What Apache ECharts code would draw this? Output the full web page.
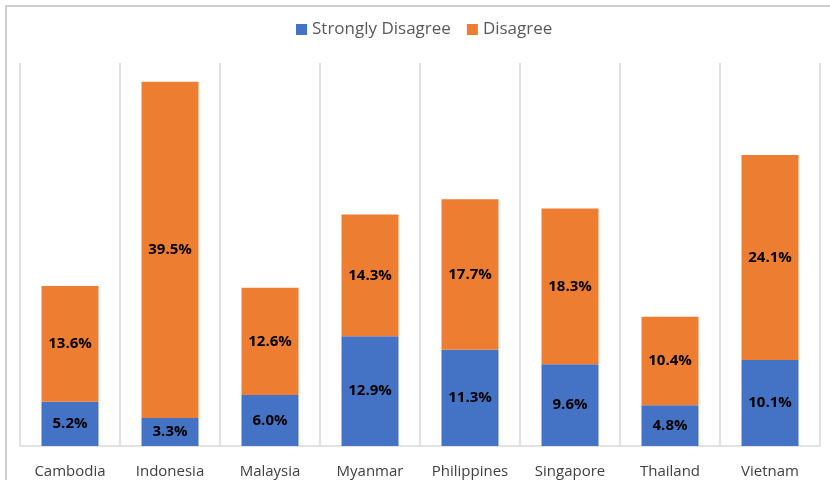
<!DOCTYPE html>
<html>
<head>
<meta charset="utf-8">
<script src="https://cdn.jsdelivr.net/npm/echarts@6/dist/echarts.min.js"></script>
<style>
  html, body { margin: 0; padding: 0; background: #fff; }
  #chart { width: 830px; height: 480px; }
</style>
</head>
<body>
<div id="chart"></div>
<script>
// Survey shares per country (percent)
const countries = ['Cambodia', 'Indonesia', 'Malaysia', 'Myanmar', 'Philippines', 'Singapore', 'Thailand', 'Vietnam'];
const stronglyDisagree = [5.2, 3.3, 6.0, 12.9, 11.3, 9.6, 4.8, 10.1];
const disagree = [13.6, 39.5, 12.6, 14.3, 17.7, 18.3, 10.4, 24.1];

const font = "'Open Sans', 'DejaVu Sans', sans-serif";

const labelStyle = {
  show: true,
  position: 'inside',
  formatter: p => p.value.toFixed(1) + '%',
  color: '#000',
  fontWeight: 'bold',
  fontSize: 15,
  fontFamily: font
};

const chart = echarts.init(document.getElementById('chart'));
chart.setOption({
  animation: false,
  backgroundColor: '#fff',
  graphic: [{
    type: 'rect',
    shape: { x: 6, y: 6, width: 840, height: 500 },
    style: { fill: 'none', stroke: '#cfcfcf', lineWidth: 2 },
    silent: true
  }],
  legend: {
    top: 16,
    left: 291,
    itemWidth: 11,
    itemHeight: 11,
    itemGap: 16,
    icon: 'rect',
    textStyle: { color: '#595959', fontSize: 17, fontFamily: font },
    data: ['Strongly Disagree', 'Disagree']
  },
  grid: { left: 20, right: 10, top: 63, bottom: 34 },
  xAxis: {
    type: 'category',
    data: countries,
    axisLine: { lineStyle: { color: '#d9d9d9', width: 1.5 } },
    axisTick: { show: false },
    axisLabel: { color: '#404040', fontSize: 15, fontFamily: font, margin: 18 },
    splitLine: { show: true, lineStyle: { color: '#d9d9d9', width: 1.5 } }
  },
  yAxis: {
    type: 'value',
    min: 0,
    max: 45,
    show: false,
    splitLine: { show: false }
  },
  series: [
    {
      name: 'Strongly Disagree',
      type: 'bar',
      stack: 'total',
      barWidth: '57%',
      itemStyle: { color: '#4472C4' },
      label: labelStyle,
      data: stronglyDisagree
    },
    {
      name: 'Disagree',
      type: 'bar',
      stack: 'total',
      barWidth: '57%',
      itemStyle: { color: '#ED7D31' },
      label: labelStyle,
      data: disagree
    }
  ]
});
</script>
</body>
</html>
